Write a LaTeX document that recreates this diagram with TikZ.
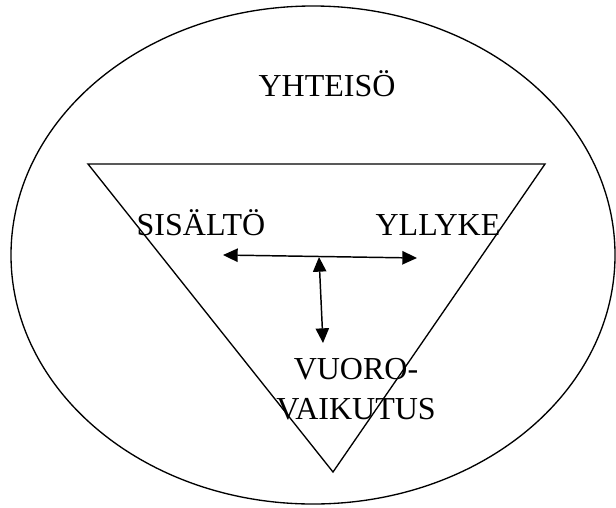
\documentclass[tikz,border=0pt]{standalone}
\usepackage{fontspec}
\setmainfont{Liberation Serif}
\usetikzlibrary{arrows.meta}

\begin{document}
\begin{tikzpicture}[
            x=0.75pt, y=-0.75pt,
            label text/.style={font=\fontsize{24}{30}\selectfont, inner sep=0pt, anchor=base},
            twoway/.style={line width=1.1pt, {Triangle[length=11pt, width=10pt]}-{Triangle[length=11pt, width=10pt]}}
                           ]
            \useasboundingbox (0,0) rectangle (616,507);

            % 1. Outer ellipse and the inverted triangle
            \draw[line width=1pt] (313,255) ellipse [x radius=302, y radius=249];
            \draw[line width=1pt] (88,164) -- (545,164) -- (333,472) -- cycle;

            % 2. Labels
            \node[label text] (yhteiso) at (327,96) {YHTEISÖ};
            \node[label text] (sisalto) at (201,235) {SISÄLTÖ};
            \node[label text] (yllyke) at (438,235) {YLLYKE};
            \node[label text, align=center, anchor=north] (vuoro) at (356,358) {VUORO-\\VAIKUTUS};

            % 3. Arrow ends
            \coordinate (h-left) at (223,255);
            \coordinate (h-right) at (417,258);
            \coordinate (v-top) at (319,257);
            \coordinate (v-bottom) at (323,343);

            % 4. Arrows between the corners
            \draw[twoway] (h-left) -- (h-right);
            \draw[twoway] (v-top) -- (v-bottom);

        \end{tikzpicture}
\end{document}
